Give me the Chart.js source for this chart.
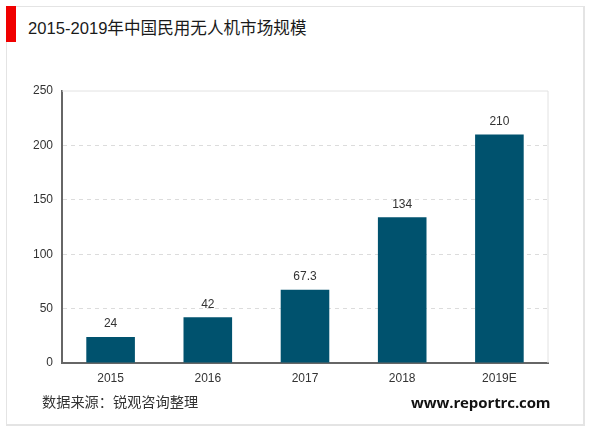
<!DOCTYPE html>
<html>
<head>
<meta charset="utf-8">
<script src="https://cdn.jsdelivr.net/npm/chart.js@4"></script>
<style>
html, body { margin: 0; padding: 0; background: #fff; }
#wrap { position: relative; width: 600px; height: 433px; overflow: hidden; }
#card { position: absolute; left: 6px; top: 6px; width: 579px; height: 420px; border: 1px solid #e4e4e4; border-right-width: 2px; border-bottom-width: 2px; box-sizing: border-box; }
#mark { position: absolute; left: 6px; top: 6px; width: 10px; height: 36px; background: #f00000; }
.txt { position: absolute; white-space: nowrap; font-family: "Liberation Sans", "Noto Sans CJK SC", sans-serif; }
#title { left: 28px; top: 18px; font-size: 16.6px; line-height: 22px; color: #1a1a1a; }
#source { left: 42px; top: 393px; font-size: 14.2px; line-height: 18px; color: #333; }
#site { left: 411px; top: 393px; font-size: 15px; line-height: 18px; font-weight: bold; color: #111; font-family: "Open Sans", sans-serif; letter-spacing: -0.1px; }
canvas { position: absolute; left: 0; top: 0; }
</style>
</head>
<body>
<div id="wrap">
  <div id="card"></div>
  <div id="mark"></div>
  <div class="txt" id="title">2015-2019年中国民用无人机市场规模</div>
  <canvas id="barChart" width="600" height="433"></canvas>
  <div class="txt" id="source">数据来源：锐观咨询整理</div>
  <div class="txt" id="site">www.reportrc.com</div>
</div>
<script>
const years = ['2015', '2016', '2017', '2018', '2019E'];
const marketSize = [24, 42, 67.3, 134, 210];
const yTicks = [0, 50, 100, 150, 200, 250];

// top and right edge of the plot
const plotFrame = {
  id: 'plotFrame',
  beforeDatasetsDraw(chart) {
    const { ctx, chartArea: a } = chart;
    ctx.save();
    ctx.strokeStyle = '#e2e2e2';
    ctx.lineWidth = 1;
    ctx.beginPath();
    ctx.moveTo(a.left, a.top);
    ctx.lineTo(a.right, a.top);
    ctx.lineTo(a.right, a.bottom);
    ctx.stroke();
    ctx.restore();
  }
};

// value above each bar
const barValues = {
  id: 'barValues',
  afterDatasetsDraw(chart) {
    const { ctx } = chart;
    const meta = chart.getDatasetMeta(0);
    ctx.save();
    ctx.font = '12px "Liberation Sans"';
    ctx.fillStyle = '#333';
    ctx.textAlign = 'center';
    ctx.textBaseline = 'bottom';
    meta.data.forEach((bar, i) => {
      ctx.fillText(String(marketSize[i]), bar.x, bar.y - 7);
    });
    ctx.restore();
  }
};

new Chart(document.getElementById('barChart').getContext('2d'), {
  type: 'bar',
  data: {
    labels: years,
    datasets: [{
      data: marketSize,
      backgroundColor: '#00526e',
      barPercentage: 0.5,
      categoryPercentage: 1
    }]
  },
  options: {
    responsive: false,
    animation: false,
    layout: { padding: { top: 91, right: 52, left: 0, bottom: 0 } },
    plugins: { legend: { display: false }, tooltip: { enabled: false } },
    scales: {
      x: {
        grid: { display: false },
        border: { color: '#666', width: 2 },
        ticks: { color: '#333', font: { family: 'Liberation Sans', size: 12 }, padding: 0, maxRotation: 0 },
        afterFit(scale) { scale.height = 70; }
      },
      y: {
        min: 0,
        max: 250,
        afterBuildTicks(scale) { scale.ticks = yTicks.map(v => ({ value: v })); },
        grid: {
          color: ctx => (ctx.tick.value === 250 || ctx.tick.value === 0) ? 'rgba(0,0,0,0)' : '#dcdcdc',
          drawTicks: false
        },
        border: { color: '#666', width: 2, dash: [4, 4] },
        ticks: { color: '#333', font: { family: 'Liberation Sans', size: 12 }, padding: 9 },
        afterFit(scale) { scale.width = 62; }
      }
    }
  },
  plugins: [plotFrame, barValues]
});
</script>
</body>
</html>
